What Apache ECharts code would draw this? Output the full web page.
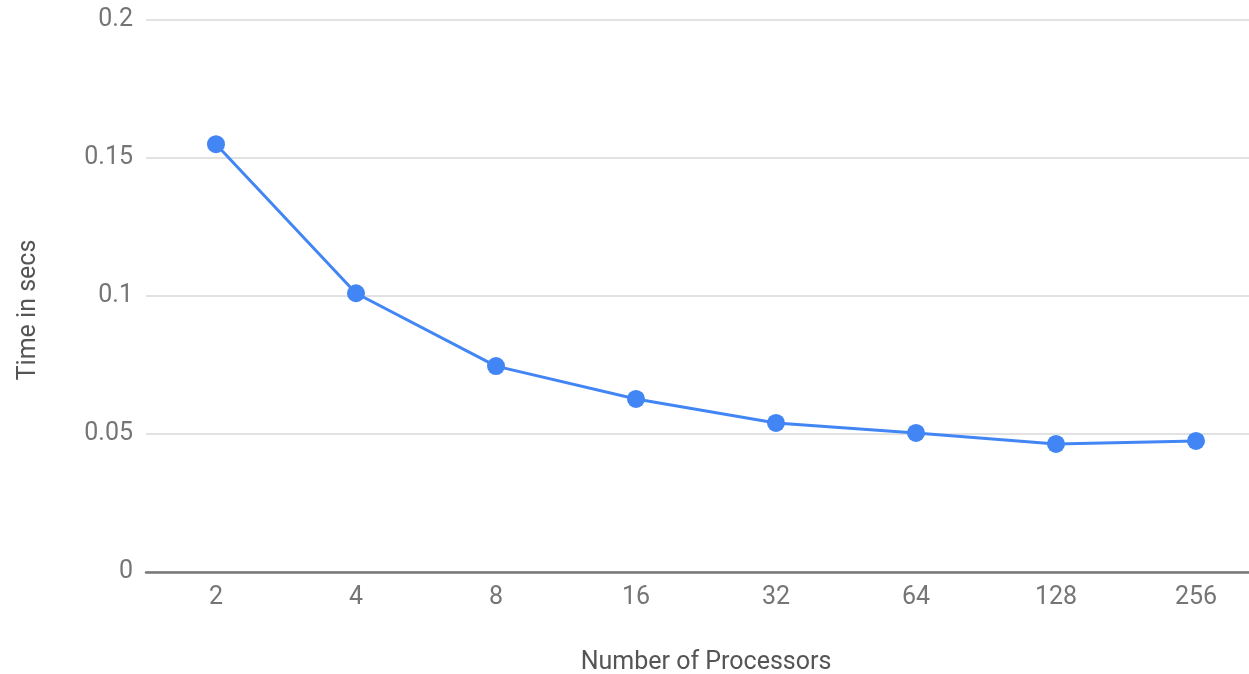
<!DOCTYPE html>
<html><head><meta charset="utf-8">
<script src="https://cdn.jsdelivr.net/npm/echarts@6/dist/echarts.min.js"></script>
<style>html,body{margin:0;padding:0;background:#fff;overflow:hidden;}#c{width:1249px;height:674px;}</style>
</head><body><div id="c"></div>
<script>
const categories = ['2','4','8','16','32','64','128','256'];
const timeSecs = [0.155, 0.101, 0.0746, 0.0627, 0.054, 0.0504, 0.0464, 0.0475];
const yTicks = [0, 0.05, 0.1, 0.15, 0.2];

const chart = echarts.init(document.getElementById('c'));
chart.setOption({
  animation: false,
  textStyle: {fontFamily: 'Roboto'},
  grid: {left: 146, top: 20, width: 1120, height: 552, outerBoundsMode: 'none', containLabel: false},
  xAxis: {
    type: 'category', data: categories, boundaryGap: true,
    name: 'Number of Processors', nameLocation: 'middle', nameGap: 78,
    nameTextStyle: {fontSize: 25, color: '#555', fontFamily: 'Roboto'},
    axisLine: {lineStyle: {color: '#777', width: 2.5}},
    axisTick: {show: false},
    axisLabel: {fontSize: 25, color: '#757575', margin: 13, fontFamily: 'Roboto'}
  },
  yAxis: {
    type: 'value', min: 0, max: 0.2, interval: 0.05,
    name: 'Time in secs', nameLocation: 'middle', nameGap: 105, nameRotate: 90,
    nameTextStyle: {fontSize: 25, color: '#555', fontFamily: 'Roboto', padding: [0, 28, 0, 0]},
    axisLine: {show: false}, axisTick: {show: false},
    axisLabel: {fontSize: 25, color: '#757575', margin: 13, fontFamily: 'Roboto',
      formatter: v => yTicks.includes(v) ? String(v) : ''},
    splitLine: {lineStyle: {color: '#d9d9d9', width: 1.5}}
  },
  series: [{
    type: 'line', data: timeSecs,
    symbol: 'circle', symbolSize: 18,
    lineStyle: {color: '#4285F4', width: 3},
    itemStyle: {color: '#4285F4'}
  }]
});
</script></body></html>
